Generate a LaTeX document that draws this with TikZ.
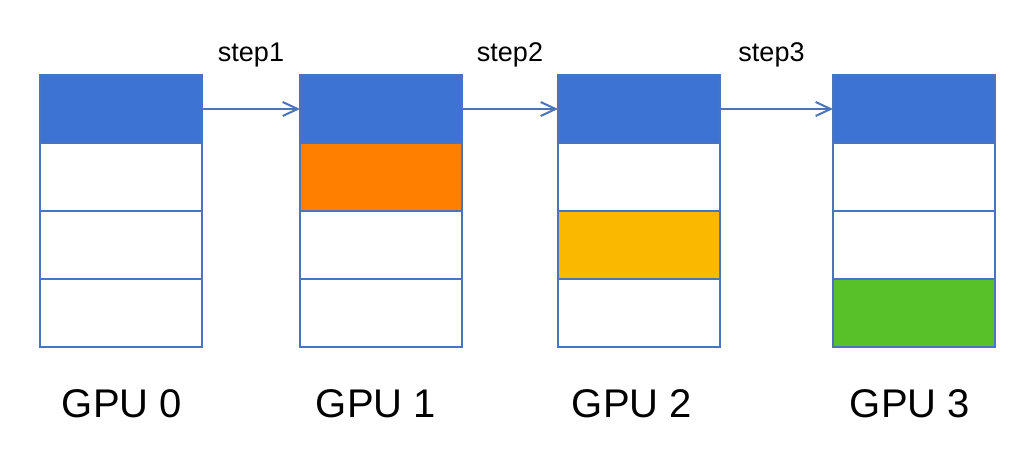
\documentclass[tikz,border=0pt]{standalone}
\usepackage{fontspec}
\setmainfont{Liberation Sans}
\usetikzlibrary{positioning,arrows.meta}

\definecolor{rahmen}{HTML}{4A74BC}
\definecolor{gpublau}{HTML}{3D74D3}
\definecolor{gpuorange}{HTML}{FF7F00}
\definecolor{gpugelb}{HTML}{FBB800}
\definecolor{gpugruen}{HTML}{58C12A}

\begin{document}
\begin{tikzpicture}[>={Straight Barb[length=7.5pt,width=7pt]},x=0.5pt,y=-0.5pt]
	\useasboundingbox (0,0) rectangle (1034,460);

	\tikzset{
		zelle/.style={draw=rahmen, line width=1pt, minimum width=81pt,
			minimum height=34pt, inner sep=0pt, outer sep=0pt},
		gpulabel/.style={font=\fontsize{20}{24}\selectfont, inner sep=0pt},
		steplabel/.style={font=\fontsize{13.5}{16}\selectfont, inner sep=0pt}
	}

	\foreach \i/\xpos/\bunt/\farbe/\versatz in {0/121/0/white/0.5,1/381/2/gpuorange/-2.5,2/639/3/gpugelb/-3.5,3/914/4/gpugruen/-2} {
		\foreach \j in {1,...,4} {
			\ifnum\j=1 \def\f{gpublau}\else\ifnum\j=\bunt\relax \def\f{\farbe}\else\def\f{white}\fi\fi
			\node[zelle, fill=\f] (c\i-\j) at (\xpos,{109+68*(\j-1)}) {};
		}
		\node[gpulabel, below=21pt of c\i-4, xshift=\versatz pt] (gpu\i) {GPU \i};
	}

	\draw[->, rahmen, line width=1pt] (c0-1.east) -- (c1-1.west)
		node[steplabel, text=black, midway, above=20.5pt] (s1) {step1};
	\draw[->, rahmen, line width=1pt] (c1-1.east) -- (c2-1.west)
		node[steplabel, text=black, midway, above=20.5pt] (s2) {step2};
	\draw[->, rahmen, line width=1pt] (c2-1.east) -- (c3-1.west)
		node[steplabel, text=black, midway, above=20.5pt, xshift=-2.5pt] (s3) {step3};
\end{tikzpicture}
\end{document}
